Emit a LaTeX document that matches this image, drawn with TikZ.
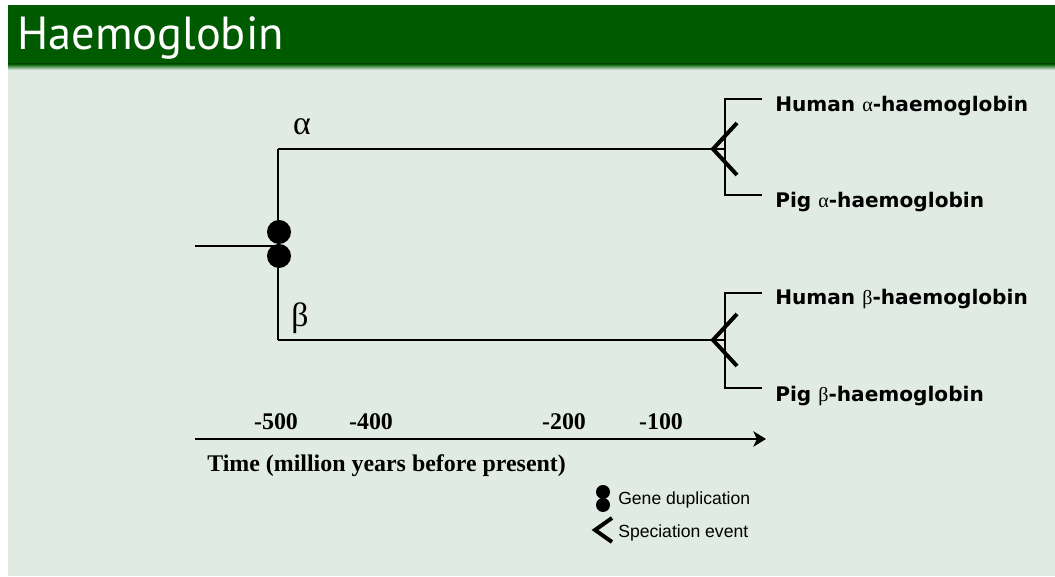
\documentclass[tikz,border=0pt]{standalone}
\usepackage{fontspec}
\usetikzlibrary{arrows.meta}
\newfontfamily\titlefont{PT Sans}
\newfontfamily\leaffont{DejaVu Sans}
\newfontfamily\legendfont{Liberation Sans}
\newfontfamily\timefont{Liberation Serif}
\newcommand{\grk}[1]{{\timefont\mdseries #1}}
\definecolor{headgreen}{RGB}{0,90,0}
\definecolor{panelbg}{RGB}{224,235,227}

\begin{document}
\begin{tikzpicture}[x=0.025cm, y=0.025cm,
    branch/.style={line width=1.2pt},
    spec/.style={line width=2.8pt},
    dup/.style={circle, fill=black, inner sep=0pt, minimum size=0.6cm},
    smalldup/.style={circle, fill=black, inner sep=0pt, minimum size=0.35cm},
    leaf/.style={anchor=base west, inner sep=0pt, font=\leaffont\bfseries\fontsize{14.3}{16}\selectfont},
    greek/.style={inner sep=0pt, font=\timefont\fontsize{24}{28}\selectfont},
    tick/.style={inner sep=0pt, font=\timefont\bfseries\fontsize{17}{20}\selectfont},
    legend/.style={anchor=west, inner sep=0pt, font=\legendfont\fontsize{12.5}{15}\selectfont}]
    \useasboundingbox (0,0) rectangle (1055,577);
    % background and header
    \fill[white] (0,0) rectangle (1055,577);
    \fill[panelbg] (8,1) rectangle (1055,572);
    \fill[headgreen] (8,513) rectangle (1055,572);
    \shade[top color=headgreen, bottom color=panelbg] (8,507) rectangle (1055,513);
    \node[anchor=base west, inner sep=0pt, white, font=\titlefont\fontsize{33}{38}\selectfont] (title) at (17,527) {Haemoglobin};

    % gene duplication
    \coordinate (root) at (195,331);
    \coordinate (fork) at (278,331);
    \coordinate (aStart) at (278,428);
    \coordinate (bStart) at (278,237);
    \draw[branch] (root) -- (fork);
    \draw[branch] (aStart) -- (bStart);
    \node[dup] (dupA) at (279,345) {};
    \node[dup] (dupB) at (279,321) {};
    \node[greek] (alpha) at (302,450) {α};
    \node[greek] (beta) at (300,259) {β};

    % alpha branch
    \coordinate (aSpec) at (725,428);
    \coordinate (aTop) at (762,478);
    \coordinate (aBot) at (762,382);
    \draw[branch] (aStart) -- (aSpec);
    \draw[branch] (aTop) -| (aSpec) |- (aBot);
    \draw[spec] (737,454) -- (713,428) -- (737,402);
    \node[leaf] (humA) at (775,465) {Human \grk{α}-haemoglobin};
    \node[leaf] (pigA) at (775,369) {Pig \grk{α}-haemoglobin};

    % beta branch
    \coordinate (bSpec) at (725,237);
    \coordinate (bTop) at (762,284);
    \coordinate (bBot) at (762,189);
    \draw[branch] (bStart) -- (bSpec);
    \draw[branch] (bTop) -| (bSpec) |- (bBot);
    \draw[spec] (737,263) -- (713,237) -- (737,211);
    \node[leaf] (humB) at (775,272) {Human \grk{β}-haemoglobin};
    \node[leaf] (pigB) at (775,175) {Pig \grk{β}-haemoglobin};

    % time axis
    \coordinate (tStart) at (195,138);
    \coordinate (tEnd) at (766,138);
    \draw[branch, -{Stealth[length=9pt, width=11pt, inset=2.5pt]}] (tStart) -- (tEnd);
    \node[tick] (t500) at (276,155) {-500};
    \node[tick] (t400) at (371,155) {-400};
    \node[tick] (t200) at (564,155) {-200};
    \node[tick] (t100) at (661,155) {-100};
    \node[tick, anchor=west] (tlabel) at (207,111) {Time (million years before present)};

    % legend
    \node[smalldup] (keyA) at (603,85) {};
    \node[smalldup] (keyB) at (603,72) {};
    \node[legend] (keyDup) at (618,77) {Gene duplication};
    \draw[spec] (612,59) -- (595,47) -- (612,35);
    \node[legend] (keySpec) at (618,44) {Speciation event};
\end{tikzpicture}
\end{document}
